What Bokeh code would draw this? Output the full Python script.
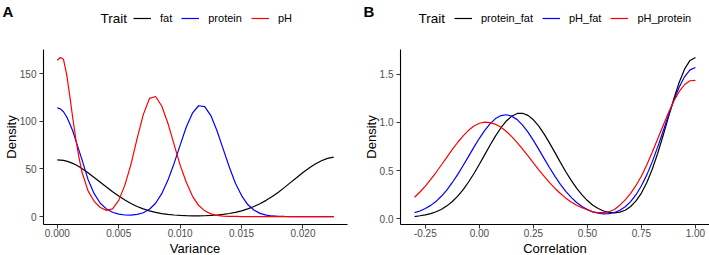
import numpy as np
from bokeh.plotting import figure
from bokeh.layouts import row, column
from bokeh.models import (Legend, LegendItem, Label, FixedTicker,
                          NumeralTickFormatter, Range1d)
from bokeh.embed import file_html
from bokeh.resources import INLINE

FONT = "Liberation Sans"

# ---- Panel A: posterior densities of the variance components ----
variance = [0.0, 0.00025, 0.0005, 0.00075, 0.001, 0.00125, 0.0015, 0.00175,
            0.002, 0.0025, 0.003, 0.0035, 0.004, 0.0045, 0.005, 0.0055,
            0.006, 0.0065, 0.007, 0.0075, 0.008, 0.0085, 0.009, 0.0095,
            0.010, 0.0105, 0.011, 0.0115, 0.012, 0.0125, 0.013, 0.0135,
            0.014, 0.0145, 0.015, 0.0155, 0.016, 0.0165, 0.017, 0.0175,
            0.018, 0.0185, 0.019, 0.0195, 0.020, 0.0205, 0.021, 0.0215,
            0.022, 0.0225]

fat = [59.5, 59.3, 58.9, 58.1, 57.1, 55.8, 54.3, 52.5,
       50.5, 46.0, 41.0, 36.0, 31.0, 26.0, 21.5, 17.3,
       13.7, 10.6, 8.0, 6.0, 4.4, 3.1, 2.2, 1.6,
       1.2, 0.9, 0.75, 0.75, 0.85, 1.15, 1.6, 2.3,
       3.2, 4.4, 6.0, 8.0, 10.5, 13.5, 17.0, 21.1,
       25.6, 30.6, 35.9, 41.0, 46.2, 51.0, 55.2, 58.6,
       61.0, 62.3]

protein = [114, 113, 110, 105, 98, 90, 80, 70,
           60, 39, 24, 14, 8, 4.5, 2.5, 1.6,
           1.5, 2.3, 4.0, 7.7, 14, 24, 38, 55.5,
           75, 94, 108.5, 116.3, 115.4, 106, 90, 71,
           52, 35, 22, 12.6, 6.8, 3.3, 1.5, 0.6,
           0.25, 0.1, 0, 0, 0, 0, 0, 0,
           0, 0]

ph = [164, 167, 165, 150, 128, 104, 82, 63,
      47, 27, 16, 9.5, 6.5, 8, 17, 33,
      55, 82, 107, 124, 126, 116, 98, 76,
      54, 36, 21.5, 11.8, 6, 2.8, 1.2, 0.5,
      0.2, 0.1, 0, 0, 0, 0, 0, 0,
      0, 0, 0, 0, 0, 0, 0, 0,
      0, 0]

variance_ticks = [0.0, 0.005, 0.010, 0.015, 0.020]
density_ticks_a = [0, 50, 100, 150]

# ---- Panel B: posterior densities of the genetic correlations ----
correlation = np.round(np.arange(-0.3, 1.0001, 0.025), 3)

protein_fat = [0.022, 0.030, 0.040, 0.053, 0.072, 0.098, 0.133, 0.178, 0.234, 0.302,
               0.381, 0.469, 0.565, 0.665, 0.765, 0.860, 0.945, 1.015, 1.065, 1.093,
               1.095, 1.073, 1.027, 0.961, 0.878, 0.785, 0.686, 0.585, 0.488, 0.398,
               0.317, 0.247, 0.188, 0.140, 0.105, 0.080, 0.065, 0.060, 0.068, 0.088,
               0.126, 0.184, 0.266, 0.376, 0.513, 0.677, 0.861, 1.055, 1.246, 1.418,
               1.556, 1.644, 1.675]

ph_fat = [0.062, 0.080, 0.105, 0.138, 0.180, 0.235, 0.300, 0.376, 0.460, 0.552,
          0.647, 0.743, 0.835, 0.918, 0.987, 1.040, 1.071, 1.080, 1.065, 1.029,
          0.972, 0.899, 0.813, 0.720, 0.624, 0.529, 0.439, 0.357, 0.284, 0.221,
          0.168, 0.126, 0.094, 0.071, 0.056, 0.050, 0.052, 0.064, 0.087, 0.124,
          0.177, 0.249, 0.342, 0.455, 0.590, 0.743, 0.906, 1.072, 1.229, 1.368,
          1.477, 1.546, 1.570]

ph_protein = [0.222, 0.277, 0.339, 0.408, 0.482, 0.560, 0.640, 0.719, 0.794, 0.861,
              0.918, 0.962, 0.991, 1.003, 0.998, 0.980, 0.949, 0.906, 0.852, 0.790,
              0.723, 0.652, 0.579, 0.508, 0.439, 0.374, 0.314, 0.261, 0.213, 0.173,
              0.140, 0.113, 0.092, 0.070, 0.062, 0.062, 0.072, 0.095, 0.140, 0.195,
              0.262, 0.345, 0.444, 0.560, 0.690, 0.827, 0.965, 1.100, 1.222, 1.322,
              1.394, 1.433, 1.437]

correlation_ticks = [-0.25, 0.0, 0.25, 0.50, 0.75, 1.00]
density_ticks_b = [0.0, 0.5, 1.0, 1.5]

COLORS = ["black", "#0000FF", "#FF0000"]
WIDTH = 709
HEADER_H = 30
FOOTER_H = 15
TOTAL_H = 255
FRAME_TOP = 49
FRAME_BOTTOM = 224
# the header strip uses a data space shifted away from the series values,
# so its key renderers stay off-screen and only their legend swatches show
SHIFT = 1000


def padded(lo, hi, frac=0.05):
    span = hi - lo
    return Range1d(lo - frac * span, hi + frac * span)


def style_axes(p, xticks, xfmt, yticks, yfmt):
    for ax in (p.xaxis[0], p.yaxis[0]):
        ax.axis_line_color = "black"
        ax.axis_line_width = 1.1
        ax.major_tick_line_color = "#333333"
        ax.major_tick_line_width = 1
        ax.major_tick_in = 0
        ax.major_tick_out = 4
        ax.minor_tick_line_color = None
        ax.major_label_text_font = FONT
        ax.major_label_text_font_size = "10px"
        ax.major_label_text_color = "#4D4D4D"
        ax.axis_label_text_font = FONT
        ax.axis_label_text_font_size = "13px"
        ax.axis_label_text_font_style = "normal"
        ax.axis_label_text_color = "black"

    p.xaxis.ticker = FixedTicker(ticks=xticks)
    p.xaxis.formatter = NumeralTickFormatter(format=xfmt)
    p.xaxis.major_label_standoff = 0

    p.yaxis.ticker = FixedTicker(ticks=yticks)
    p.yaxis.formatter = NumeralTickFormatter(format=yfmt)
    p.yaxis.axis_label = "Density"
    p.yaxis.major_label_standoff = 3
    p.yaxis.axis_label_standoff = -2


def make_panel(x, series, xticks, xfmt, yticks, yfmt,
               width, border_left, border_right):
    ymin = min(min(s) for s in series)
    ymax = max(max(s) for s in series)
    height = TOTAL_H - HEADER_H - FOOTER_H
    p = figure(width=width, height=height, output_backend="svg",
               toolbar_location=None,
               x_range=padded(float(x[0]), float(x[-1])),
               y_range=padded(ymin, ymax),
               min_border_left=border_left, min_border_right=border_right,
               min_border_top=FRAME_TOP - HEADER_H,
               min_border_bottom=TOTAL_H - FOOTER_H - FRAME_BOTTOM)
    p.outline_line_color = None
    p.xgrid.visible = False
    p.ygrid.visible = False
    for values, color in zip(series, COLORS):
        p.line(x, values, line_color=color, line_width=1.2)
    style_axes(p, xticks, xfmt, yticks, yfmt)
    return p


def strip(height, shift=0):
    s = figure(width=WIDTH, height=height, output_backend="svg",
               toolbar_location=None, x_axis_type=None, y_axis_type=None,
               x_range=Range1d(shift, shift + WIDTH),
               y_range=Range1d(shift, shift + height), min_border=0)
    s.outline_line_color = None
    s.xgrid.visible = False
    s.ygrid.visible = False
    return s


def add_key(h, x, series, names, key_x, trait_x, tag, tag_x):
    keys = [h.line(x, values, line_color=c, line_width=1.2)
            for values, c in zip(series, COLORS)]
    legend = Legend(
        items=[LegendItem(label=n, renderers=[r]) for n, r in zip(names, keys)],
        orientation="horizontal", location=(key_x, HEADER_H - 25),
        glyph_width=18, glyph_height=14, label_height=14, label_width=0,
        label_standoff=9, spacing=9, padding=0, margin=0,
        border_line_color=None, background_fill_alpha=0,
        label_text_font=FONT, label_text_font_size="11px",
        label_text_color="black")
    h.add_layout(legend)
    h.add_layout(Label(x=SHIFT + trait_x, y=SHIFT + HEADER_H - 18, text="Trait",
                       text_font=FONT, text_font_size="13.5px",
                       text_baseline="middle", text_color="black"))
    h.add_layout(Label(x=SHIFT + tag_x, y=SHIFT + HEADER_H - 2, text=tag,
                       text_font=FONT, text_font_size="15px",
                       text_font_style="bold", text_baseline="top",
                       text_color="black"))


header = strip(HEADER_H, SHIFT)
add_key(header, variance, [fat, protein, ph], ["fat", "protein", "pH"],
        key_x=133, trait_x=100, tag="A", tag_x=2)
add_key(header, correlation, [protein_fat, ph_fat, ph_protein],
        ["protein_fat", "pH_fat", "pH_protein"],
        key_x=454, trait_x=418, tag="B", tag_x=363)

pa = make_panel(variance, [fat, protein, ph],
                variance_ticks, "0.000", density_ticks_a, "0",
                width=355, border_left=42, border_right=8)
pb = make_panel(correlation, [protein_fat, ph_fat, ph_protein],
                correlation_ticks, "0.00", density_ticks_b, "0.0",
                width=354, border_left=45, border_right=0)

# x-axis titles, centred under each panel's plotting area
footer = strip(FOOTER_H)
for title, centre in (("Variance", (42 + 347) / 2), ("Correlation", (400 + 709) / 2)):
    footer.add_layout(Label(x=centre, y=7.5, text=title, text_font=FONT,
                            text_font_size="13px", text_align="center",
                            text_baseline="middle", text_color="black"))

layout = column(header, row(pa, pb), footer)
open("out.html", "w").write(file_html(layout, INLINE))
